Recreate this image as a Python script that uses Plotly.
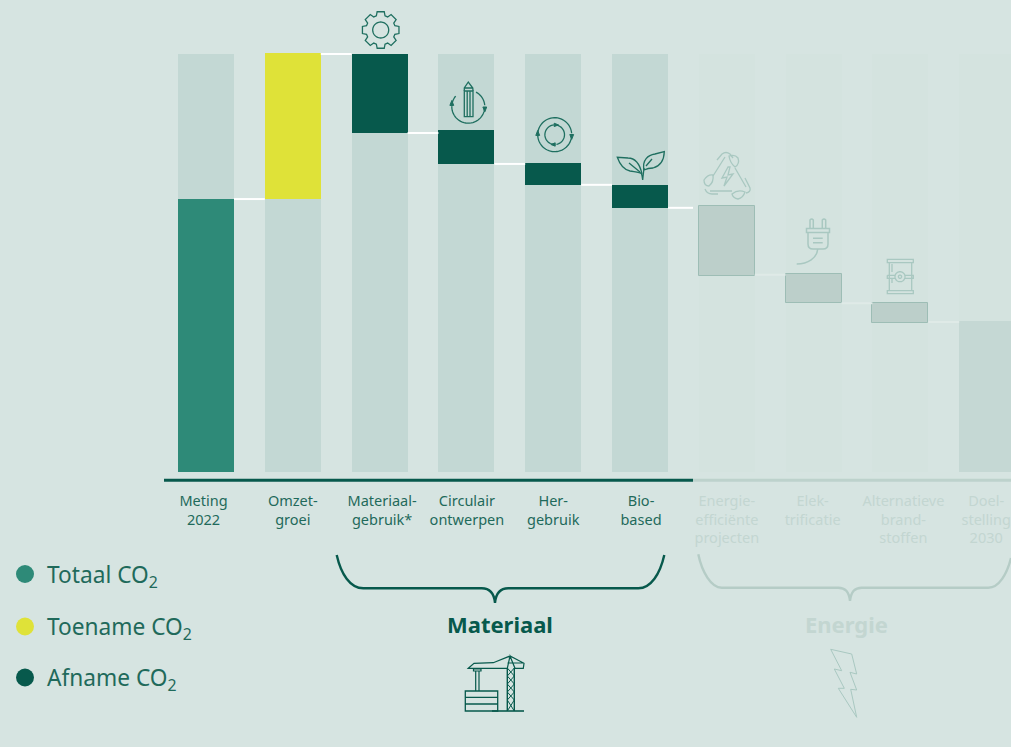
import math
import plotly.graph_objects as go

# ---------- data ----------
categories = ["Meting<br>2022", "Omzet-<br>groei", "Materiaal-<br>gebruik*", "Circulair<br>ontwerpen",
              "Her-<br>gebruik", "Bio-<br>based", "Energie-<br>efficiënte<br>projecten", "Elek-<br>trificatie",
              "Alternatieve<br>brand-<br>stoffen", "Doel-<br>stelling<br>2030"]
column_full = [100] * 10
bar_top = [65.3, 100.2, 100.0, 81.8, 73.9, 68.7, 63.6, 47.4, 40.4, 36.1]
bar_bottom = [0, 65.3, 81.1, 73.7, 68.7, 63.2, 46.9, 40.4, 35.6, 0]
connector_level = [65.3, 100.0, 81.1, 73.7, 68.7, 63.2, 47.2, 40.4, 35.9]
legend_labels = ["Totaal CO<sub>2</sub>", "Toename CO<sub>2</sub>", "Afname CO<sub>2</sub>"]
group_labels = ["Materiaal", "Energie"]

# ---------- style ----------
BG = "#d6e4e1"
COL = "#c3d8d4"
COL_FADE = "#d4e3df"
TOTAL = "#2e8a78"
UP = "#dfe238"
DOWN = "#07594c"
TEXT = "#1f6a5b"
FADE_TEXT = "#c3d6d1"
ICON = "#1f6f60"
ICON_FADE = "#a9c8c1"
BAR_FADE = "#bccfca"
BAR_FADE_LINE = "#9dbdb5"
FONT = "Noto Sans"

W, H = 1011, 747
PX_X, X0 = 86.8, 206
PX_Y, Y0, AXIS_PX = 4.18, 472, 480.3
BAR_W = 56 / PX_X
idx = list(range(len(categories)))
tick_nudge_px = [-2.5, 0, 2.5, 0.5, 0, 1, 0, -1, 3, -1]

fig = go.Figure()

def bars(ids, tops, bases, color, line=None):
    fig.add_trace(go.Bar(x=ids, y=[t - b for t, b in zip(tops, bases)], base=bases, width=BAR_W,
                         marker=dict(color=color, line=dict(color=line or color, width=1 if line else 0)),
                         hoverinfo="skip", showlegend=False))

bars(idx[:6], column_full[:6], [0] * 6, COL)
bars(idx[6:], column_full[6:], [0] * 4, COL_FADE)
bars([0], bar_top[:1], bar_bottom[:1], TOTAL)
bars([1], bar_top[1:2], bar_bottom[1:2], UP)
bars(idx[2:6], bar_top[2:6], bar_bottom[2:6], DOWN)
bars(idx[6:9], bar_top[6:9], bar_bottom[6:9], BAR_FADE, BAR_FADE_LINE)
bars([9], bar_top[9:], bar_bottom[9:], "#c5d8d4")

# connectors
half = BAR_W / 2
wx, wy, fx, fy = [], [], [], []
for i, lvl in enumerate(connector_level):
    end = i + 1 - half
    if i == 5:
        end = (693 - X0) / PX_X
    if i < 6:
        wx += [i + half, end, None]; wy += [lvl, lvl, None]
    else:
        fx += [i + half, end, None]; fy += [lvl, lvl, None]
fig.add_trace(go.Scatter(x=wx, y=wy, mode="lines", line=dict(color="white", width=2), hoverinfo="skip", showlegend=False))
fig.add_trace(go.Scatter(x=fx, y=fy, mode="lines", line=dict(color="#dfeae7", width=2), hoverinfo="skip", showlegend=False))

# legend dots on the pixel overlay
fig.add_trace(go.Scatter(x=[25, 25, 25], y=[574, 626.5, 677.5], xaxis="x2", yaxis="y2", mode="markers",
                         marker=dict(size=18, color=[TOTAL, UP, DOWN]), hoverinfo="skip", showlegend=False))

# ---------- decoration helpers ----------
shapes = []
def path(d, color=ICON, width=1.3, fill=None, layer="above"):
    shapes.append(dict(type="path", path=d, xref="x2", yref="y2", layer=layer,
                       line=dict(color=color, width=width), fillcolor=fill or "rgba(0,0,0,0)"))
def poly(pts, close=False):
    return "M " + " L ".join(f"{x:.2f},{y:.2f}" for x, y in pts) + (" Z" if close else "")
def arc(cx, cy, r, a0, a1, n=24):
    return poly([(cx + r * math.cos(math.radians(a0 + (a1 - a0) * k / n)),
                  cy + r * math.sin(math.radians(a0 + (a1 - a0) * k / n))) for k in range(n + 1)])
def circle(cx, cy, r, color=ICON, width=1.3):
    path(arc(cx, cy, r, 0, 360, 48) + " Z", color, width)
def head(x, y, ang, size=3.2, color=ICON):
    a = math.radians(ang)
    pts = [(x + size * math.cos(a), y + size * math.sin(a)),
           (x + size * .8 * math.cos(a + 2.3), y + size * .8 * math.sin(a + 2.3)),
           (x + size * .8 * math.cos(a - 2.3), y + size * .8 * math.sin(a - 2.3))]
    path(poly(pts, True), color, 1, color)

# gear
gear = []
cx, cy, ro, ri = 380.7, 30, 18.6, 14.8
for t in range(8):
    c = t * 45 - 90
    for a, r in [(c - 11, ro), (c + 11, ro), (c + 17, ri), (c + 28, ri)]:
        gear.append((cx + r * math.cos(math.radians(a)), cy + r * math.sin(math.radians(a))))
path(poly(gear, True))
circle(cx, cy, 8)

# pencil & loop
cx, cy, r = 468.3, 106.7, 16.5
path(arc(cx, cy, r, -62, -5, 12)); path(arc(cx, cy, r, 180, 220, 8)); path(arc(cx, cy, r, 5, 180, 28))
head(cx + r, cy + 2, 90); head(cx - r, cy - 3, -90)
path("M 464.3,91 L 473,91 L 473,116.7 L 464.3,116.7 Z M 467.2,91 L 467.2,116.7 M 470,91 L 470,116.7")
path("M 464.3,91 L 464.3,88 L 468.3,82 L 472.8,88 L 473,91 M 464.3,88 L 472.8,88")

# reuse loop
cx, cy = 554.7, 134.7
path(arc(cx, cy, 17, -178, -5, 30)); path(arc(cx, cy, 17, 8, 178, 30))
path(arc(cx, cy, 9.8, -85, 80, 24)); path(arc(cx, cy, 9.8, 95, 265, 24))
head(cx + 17, cy + 1.5, 90); head(cx - 17, cy - 1, -90)
head(cx + 1, cy - 9.8, 0, 2.8); head(cx - 1, cy + 9.8, 180, 2.8)

# leaves
path("M 642,174 C 640,165 636,158 628,158 L 617.3,157.3 C 620,165 625,170 630,171 C 636,172 640,172 642,174")
path("M 644,170 C 642,160 648,155 655,154 L 664.3,151.7 C 664,160 660,166 653,168 C 649,168 646,169 644,170")
path("M 642.7,180 C 642.5,177 642,175 641,172 M 642.7,180 C 643,176 643.6,172 644,168")
path("M 629,163 L 640,172 M 646,166 L 652,159")

# recycle triangle
c = ICON_FADE
path("M 717,160 L 722,154 Q 726,151 730,154 L 733,158", c)
path("M 713,176 L 725,157 M 735,168 L 746,187 M 745,178 L 750,188 Q 751,192 746,193", c)
path("M 705,189 Q 707,194 712,194 L 718,194 M 710,191 L 732,191", c)
path("M 729,156 Q 735,154 738,158 Q 740,164 735,167 Q 730,163 729,156 Z", c)
path("M 704,180 Q 708,174 713,175 Q 714,182 709,186 Q 704,186 704,180 Z", c)
path("M 732,194 Q 738,189 745,192 Q 743,198 738,199 Q 733,198 732,194 Z", c)
path("M 728,167 L 722,178 L 727,177 L 724,186 L 733,174 L 728,175 L 730,167 Z", c)

# plug
path("M 810,228 L 810,220 Q 811.6,218 813.3,220 L 813.3,228 M 822.3,228 L 822.3,220 Q 824,218 825.7,220 L 825.7,228", c, 1.5)
path("M 806.5,228.4 L 829.5,228.4 L 829.5,232.6 L 806.5,232.6 Z", c, 1.5)
path("M 808,232.6 L 808,244 Q 808,249 813,249 L 823,249 Q 828,249 828,244 L 828,232.6", c, 1.5)
path("M 813,238.3 L 822.7,238.3 M 813,242.7 L 822.7,242.7", c, 1.5)
path("M 817.7,249 C 817,258 808,264 796.7,264", c, 1.5)

# barrel
path("M 887.3,259.3 H 913.3 V 262.7 H 887.3 Z M 887.3,290.7 H 913.3 V 293.7 H 887.3 Z", c)
path("M 889.3,262.7 V 290.7 M 911.7,262.7 V 290.7 M 887.3,275.3 H 895 M 905,275.3 H 913.3 V 278.3 H 905 M 895,278.3 H 887.3 V 275.3 M 892,264 V 272 M 892,279 V 283", c)
circle(900, 276.7, 5, c); circle(900, 276.7, 1.6, c)

# crane
path("M 465.3,691 H 497.7 V 711 H 465.3 Z M 465.3,697.3 H 497.7 M 465.3,704 H 497.7", DOWN, 1.3)
path("M 492,711 H 524", DOWN, 1.6)
path("M 475.7,671 V 691 M 479,671 V 691 M 473.5,669 H 481 V 671 H 473.5 Z", DOWN, 1.2)
path("M 468.3,668.3 L 474,663.3 L 493.3,662.7 L 510,656 L 524,663.3 L 523.3,668.3 L 515,668.3 L 510,656 L 507.3,668.3 Z M 468.3,668.3 H 507.3 M 507.5,663 H 524", DOWN, 1.2)
path("M 507.3,668 V 711 M 514.3,668 V 711", DOWN, 1.4)
path("M 507.3,668 L 514.3,676 L 507.3,684 L 514.3,692 L 507.3,700 L 514.3,711 M 514.3,668 L 507.3,676 L 514.3,684 L 507.3,692 L 514.3,700 L 507.3,711", DOWN, 1)

# bolt
path(poly([(830.7, 649.3), (851.7, 654), (856.7, 674), (850, 672.3), (856.7, 690), (850.7, 689.3), (856.7, 717.3),
           (838.3, 688.3), (844.3, 688.3), (834.3, 669), (841.7, 670.7)], True), c, 1)

# braces
path("M 336.7,555 C 341,574 350,588.3 363.3,588.3 L 481.7,588.3 C 489,588.3 494,592 495,603 "
     "C 496,592 501,588.3 508.3,588.3 L 638.3,588.3 C 651,588.3 660,574 664.3,555", DOWN, 2.4)
path("M 698.3,554.3 C 702,572 711,587.7 721.7,587.7 L 838.3,587.7 C 845,587.7 849,591 850,601 "
     "C 851,591 855,587.7 861.7,587.7 L 988.3,587.7 C 999,587.7 1007,574 1011,558", "#b5ccc6", 2.4)

# axis line
path(f"M 164,{AXIS_PX} H 693", DOWN, 3)
path(f"M 693,{AXIS_PX} H 1011", "#bdd2cc", 3)

# ---------- texts ----------
annotations = []
for lab, y in zip(legend_labels, [576, 628, 679]):
    annotations.append(dict(text=lab, x=45, y=y, xref="x2", yref="y2", xanchor="left", yanchor="middle",
                            showarrow=False, font=dict(size=22.7, color=TEXT, family=FONT)))
for lab, x, col in zip(group_labels, [499.5, 846], [DOWN, FADE_TEXT]):
    annotations.append(dict(text=f"<b>{lab}</b>", x=x, y=624, xref="x2", yref="y2", xanchor="center", yanchor="middle",
                            showarrow=False, font=dict(size=22, color=col, family=FONT)))

ticktext = [f'<span style="color:{TEXT if i < 6 else FADE_TEXT}">{c}</span>' for i, c in enumerate(categories)]
tickvals = [i + n / PX_X for i, n in zip(idx, tick_nudge_px)]

fig.update_layout(
    width=W, height=H, margin=dict(l=0, r=0, t=0, b=0), autosize=False,
    paper_bgcolor=BG, plot_bgcolor="rgba(0,0,0,0)", barmode="overlay", bargap=0,
    font=dict(family=FONT, color=TEXT), shapes=shapes, annotations=annotations, hovermode=False,
    xaxis=dict(range=[-X0 / PX_X, (W - X0) / PX_X], tickmode="array", tickvals=tickvals, ticktext=ticktext,
               tickfont=dict(size=14.5, family=FONT), ticks="outside", ticklen=7, tickcolor="rgba(0,0,0,0)",
               showgrid=False, zeroline=False, showline=False, automargin=False, fixedrange=True,
               ticklabeloverflow="allow"),
    yaxis=dict(domain=[(H - AXIS_PX) / H, 1], range=[(Y0 - AXIS_PX) / PX_Y, Y0 / PX_Y], visible=False,
               fixedrange=True, automargin=False),
    xaxis2=dict(range=[0, W], visible=False, anchor="y2", fixedrange=True, domain=[0, 1]),
    yaxis2=dict(domain=[0, 1], range=[H, 0], visible=False, anchor="x2", fixedrange=True),
)

fig.write_html("out.html", config={"displayModeBar": False},
               post_script="document.body.style.margin='0';document.body.style.background='%s';" % BG)
